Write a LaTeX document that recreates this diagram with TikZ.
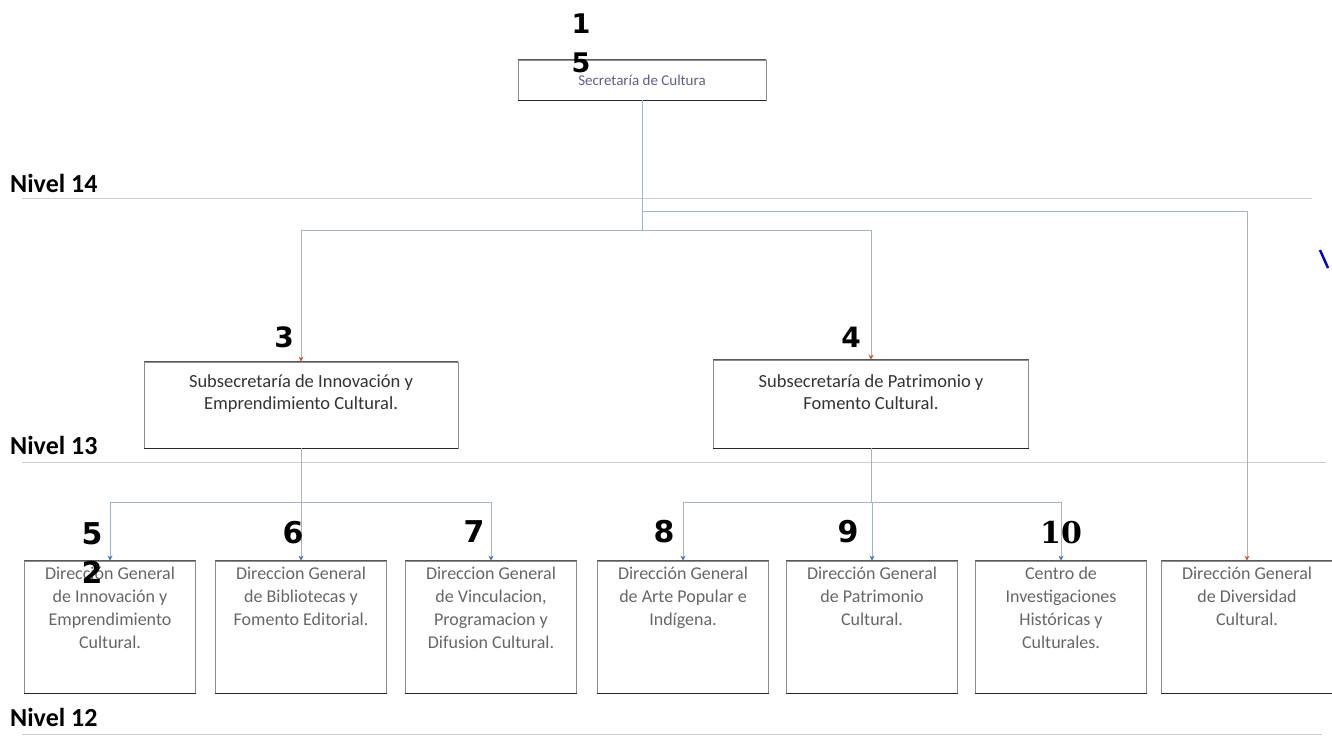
\documentclass[tikz,border=0pt]{standalone}
\usepackage{fontspec}
\setmainfont{Carlito}
\newfontfamily\numfont{DejaVu Sans}
\newfontfamily\numserif{DejaVu Serif}
\usetikzlibrary{arrows.meta}

\definecolor{linkblue}{RGB}{165,180,205}
\definecolor{tipblue}{RGB}{70,110,190}
\definecolor{tipred}{RGB}{205,85,45}
\definecolor{sepgray}{RGB}{205,205,205}
\definecolor{secblue}{RGB}{95,95,130}

\tikzset{
  box/.style={draw=black!45, line width=0.8pt, inner sep=0pt},
  boxedge/.style={draw=black!85, line width=1.8pt},
  boxtop/.style={draw=black!65, line width=1.1pt},
  dgtext/.style={anchor=north, inner sep=0pt, align=center, text=black!60,
    font=\fontsize{18}{23}\selectfont},
  subtext/.style={anchor=north, inner sep=0pt, align=center, text=black!80,
    font=\fontsize{18.5}{22}\selectfont},
  nivel/.style={anchor=west, inner sep=0pt, font=\bfseries\fontsize{26}{26}\selectfont},
  numlbl/.style={inner sep=0pt, align=center, font=\numfont\bfseries\fontsize{30}{39}\selectfont},
  sepline/.style={draw=sepgray, line width=0.9pt},
  link/.style={draw=linkblue, line width=0.8pt},
  blueend/.style={-{Stealth[length=5pt, width=5pt, color=tipblue]}},
  redend/.style={-{Stealth[length=5pt, width=5pt, color=tipred]}}
}

\begin{document}
\begin{tikzpicture}[x=1pt, y=-1pt]
\useasboundingbox (0,0) rectangle (1332,740);
% Coordinates
\coordinate (busTop) at (0,211);
\coordinate (busSub) at (0,230);
\coordinate (busLow) at (0,502);
% Level separators
\node[nivel] (nivel14) at (10,183) {Nivel 14};
\node[nivel] (nivel13) at (10,445) {Nivel 13};
\node[nivel] (nivel12) at (10,717) {Nivel 12};
\coordinate (sep14a) at (22,198);  \coordinate (sep14b) at (1312,198);
\coordinate (sep13a) at (22,462);  \coordinate (sep13b) at (1326,462);
\coordinate (sep12a) at (22,734);  \coordinate (sep12b) at (1322,734);
\draw[sepline] (sep14a) -- (sep14b);
\draw[sepline] (sep13a) -- (sep13b);
\draw[sepline] (sep12a) -- (sep12b);
% Boxes
\node[box, minimum width=248pt, minimum height=40pt, text=secblue,
  font=\fontsize{15}{15}\selectfont] (secretaria) at (642,80) {Secretaría de Cultura};
\node[box, minimum width=314pt, minimum height=86pt] (subInnov) at (301,405) {};
\node[box, minimum width=315pt, minimum height=88pt] (subPatri) at (871,404) {};
\node[subtext] (subInnovTxt) at (301,374) {Subsecretaría de Innovación y\\Emprendimiento Cultural.};
\node[subtext] (subPatriTxt) at (871,374) {Subsecretaría de Patrimonio y\\Fomento Cultural.};
\foreach \name/\cx in {dgInnov/110, dgBibl/301, dgVinc/491, dgArte/683,
    dgPatri/872, centroInv/1061, dgDiver/1247}
  \node[box, minimum width=171pt, minimum height=132pt] (\name) at (\cx,627) {};
\node[dgtext] (dgInnovTxt) at (110,567) {Dirección General\\de Innovación y\\Emprendimiento\\Cultural.};
\node[dgtext] (dgBiblTxt) at (301,567) {Direccion General\\de Bibliotecas y\\Fomento Editorial.};
\node[dgtext] (dgVincTxt) at (491,567) {Direccion General\\de Vinculacion,\\Programacion y\\Difusion Cultural.};
\node[dgtext] (dgArteTxt) at (683,567) {Dirección General\\de Arte Popular e\\Indígena.};
\node[dgtext] (dgPatriTxt) at (872,567) {Dirección General\\de Patrimonio\\Cultural.};
\node[dgtext] (centroInvTxt) at (1061,567) {Centro de\\Investigaciones\\Históricas y\\Culturales.};
\node[dgtext] (dgDiverTxt) at (1247,567) {Dirección General\\de Diversidad\\Cultural.};
% Darker top and bottom edges
\foreach \name in {secretaria, subInnov, subPatri, dgInnov, dgBibl, dgVinc,
    dgArte, dgPatri, centroInv, dgDiver} {
  \draw[boxtop] (\name.north west) -- (\name.north east);
  \draw[boxedge] (\name.south west) -- (\name.south east);
}
% Connectors
\draw[link] (secretaria.south) -- (secretaria.south |- busSub);
\draw[link] (secretaria.south |- busTop) -- (dgDiver.north |- busTop);
\draw[link] (subInnov.north |- busSub) -- (subPatri.north |- busSub);
\draw[link, redend] (subInnov.north |- busSub) -- (subInnov.north);
\draw[link, redend] (subPatri.north |- busSub) -- (subPatri.north);
\draw[link, redend] (dgDiver.north |- busTop) -- (dgDiver.north);
\draw[link] (subInnov.south) -- (subInnov.south |- busLow);
\draw[link] (dgInnov.north |- busLow) -- (dgVinc.north |- busLow);
\draw[link] (subPatri.south) -- (subPatri.south |- busLow);
\draw[link] (dgArte.north |- busLow) -- (centroInv.north |- busLow);
\foreach \name in {dgInnov, dgBibl, dgVinc, dgArte, dgPatri, centroInv}
  \draw[link, blueend] (\name.north |- busLow) -- (\name.north);
% Numbers
\node[numlbl, font=\numfont\bfseries\fontsize{27}{39}\selectfont] (num15) at (581,43) {1\\5};
\node[numlbl, font=\numfont\bfseries\fontsize{28}{28}\selectfont] (num3) at (284,337) {3};
\node[numlbl, font=\numfont\bfseries\fontsize{28}{28}\selectfont] (num4) at (851,337) {4};
\node[numlbl] (num52) at (92,553) {5\\2};
\node[numlbl] (num6) at (293,533) {6};
\node[numlbl] (num7) at (474,532) {7};
\node[numlbl] (num8) at (664,532) {8};
\node[numlbl] (num9) at (848,532) {9};
\node[numlbl, font=\numserif\bfseries\fontsize{30}{30}\selectfont] (num10) at (1061,533) {10};
% Stray mark at the right edge
\draw[draw=blue!80!black, line width=2.5pt] (1320,250) -- (1328,268);
\end{tikzpicture}
\end{document}
